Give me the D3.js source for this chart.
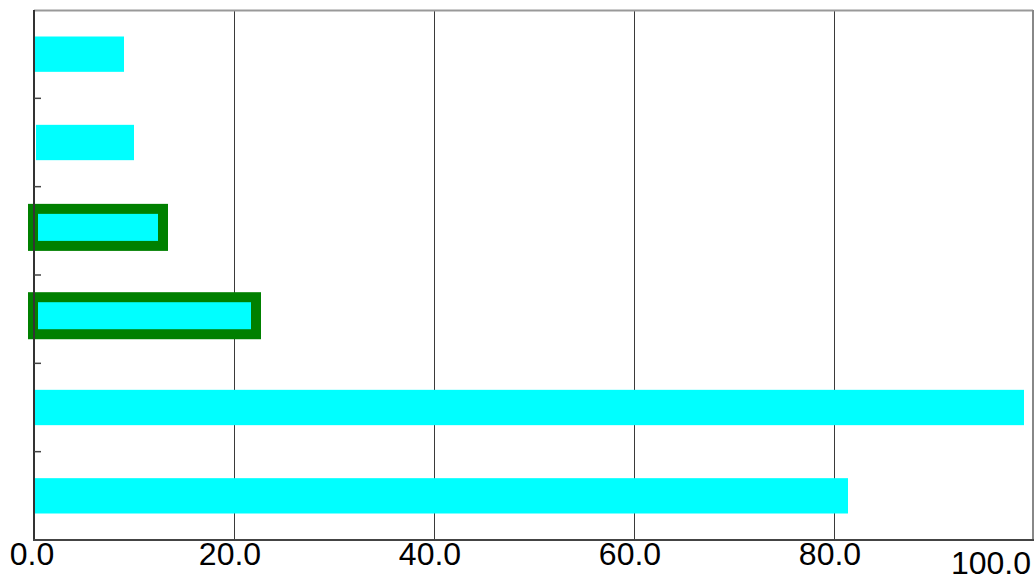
<!DOCTYPE html>
<html>
<head>
<meta charset="utf-8">
<script src="https://cdn.jsdelivr.net/npm/d3@7/dist/d3.min.js"></script>
<style>
  html, body { margin: 0; padding: 0; background: #fff; }
  svg { display: block; }
</style>
</head>
<body>
<svg id="chart" width="1034" height="578"></svg>
<script>
// ---- data (top to bottom) ----
const categories = ["A", "B", "C", "D", "E", "F"];
const startValues = [0, 0.2, 0, 0, 0, 0];
const endValues = [9.0, 10.0, 13.0, 22.3, 99.0, 81.4];
const highlighted = [false, false, true, true, false, false];
const xTickValues = [0, 20, 40, 60, 80, 100];
const xTickLabels = ["0.0", "20.0", "40.0", "60.0", "80.0", "100.0"];

(function () {
const W = 1034, H = 578;
const pLeft = 34, pRight = 1034, pTop = 10, pBottom = 540;

const svg = d3.select("#chart");

const x = d3.scaleLinear().domain([0, 100]).range([pLeft, pRight]);
const y = d3.scaleBand().domain(categories).range([pTop, pBottom])
  .paddingInner(0.6).paddingOuter(0.3);

// gridlines
svg.append("g").selectAll("line")
  .data(xTickValues.filter(v => v > 0 && v < 100))
  .join("line")
  .attr("x1", d => x(d) + 0.5).attr("x2", d => x(d) + 0.5)
  .attr("y1", pTop).attr("y2", pBottom)
  .attr("stroke", "#3a3a3a").attr("stroke-width", 1);

// top and right frame
svg.append("line").attr("x1", pLeft).attr("x2", pRight - 1)
  .attr("y1", pTop + 0.5).attr("y2", pTop + 0.5)
  .attr("stroke", "#999").attr("stroke-width", 2);
svg.append("line").attr("x1", pRight - 1).attr("x2", pRight - 1)
  .attr("y1", pTop).attr("y2", pBottom)
  .attr("stroke", "#888").attr("stroke-width", 2);

// bars
const data = categories.map((c, i) => ({
  c, s: startValues[i], e: endValues[i], h: highlighted[i]
}));
svg.append("g").selectAll("rect")
  .data(data)
  .join("rect")
  .attr("x", d => x(d.s) - (d.h ? 1 : 0))
  .attr("width", d => x(d.e) - x(d.s))
  .attr("y", d => y(d.c) - (d.h ? 4.3 : 0))
  .attr("height", d => y.bandwidth() + (d.h ? 1.7 : 0))
  .attr("fill", "#00ffff")
  .attr("stroke", d => d.h ? "#008000" : "none")
  .attr("stroke-width", d => d.h ? 10 : 0);

// left axis line + ticks at band boundaries
svg.append("line").attr("x1", pLeft).attr("x2", pLeft)
  .attr("y1", pTop).attr("y2", pBottom + 1)
  .attr("stroke", "#333").attr("stroke-width", 2);
const boundaries = categories.slice(1).map((c, i) =>
  (y(categories[i]) + y.bandwidth() + y(c)) / 2);
svg.append("g").selectAll("line")
  .data(boundaries)
  .join("line")
  .attr("x1", pLeft).attr("x2", pLeft + 7)
  .attr("y1", d => d).attr("y2", d => d)
  .attr("stroke", "#444").attr("stroke-width", 1.5);

// bottom axis line
svg.append("line").attr("x1", pLeft - 1).attr("x2", pRight)
  .attr("y1", pBottom).attr("y2", pBottom)
  .attr("stroke", "#444").attr("stroke-width", 2);

// x tick labels
const last = xTickValues.length - 1;
svg.append("g").selectAll("text")
  .data(xTickValues)
  .join("text")
  .attr("x", (d, i) => i === last ? W - 3 : x(d) - (d === 0 ? 2 : 4))
  .attr("y", (d, i) => i === last ? 574 : 565)
  .attr("text-anchor", (d, i) => i === last ? "end" : "middle")
  .attr("font-family", "'Liberation Sans', Arial, sans-serif")
  .attr("font-size", 32)
  .attr("fill", "#000")
  .text((d, i) => xTickLabels[i]);
})();
</script>
</body>
</html>
